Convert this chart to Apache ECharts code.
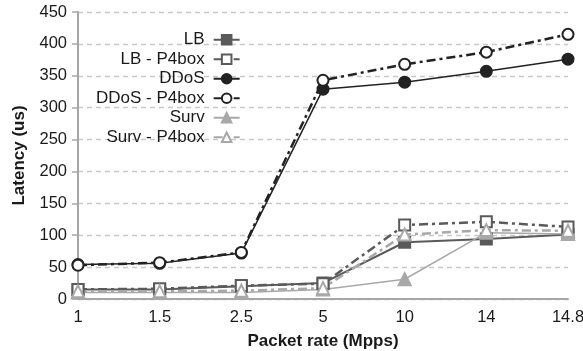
<!DOCTYPE html>
<html>
<head>
<meta charset="utf-8">
<script src="https://cdn.jsdelivr.net/npm/echarts@6/dist/echarts.min.js"></script>
<style>
  html, body { margin: 0; padding: 0; background: #fff; }
  #chart { width: 583px; height: 351px; }
</style>
</head>
<body>
<div id="chart"></div>
<script>
// 横轴：包速率
const packetRates = ['1', '1.5', '2.5', '5', '10', '14', '14.8'];

// 各场景时延 (us)
const lb = [15, 15, 20, 25, 89, 94, 101];
const lbP4box = [15, 16, 21, 24, 116, 121, 113];
const ddos = [54, 56, 72, 329, 340, 357, 376];
const ddosP4box = [53, 57, 73, 343, 368, 387, 415];
const surv = [10, 10, 10, 15, 31, 104, 102];
const survP4box = [12, 12, 13, 17, 101, 108, 107];

const seriesNames = ['LB', 'LB - P4box', 'DDoS', 'DDoS - P4box', 'Surv', 'Surv - P4box'];

const FONT = 'Liberation Sans';
const dashDot = [9, 4, 3, 4];

const chart = echarts.init(document.getElementById('chart'), null, { renderer: 'canvas' });

const mkSeries = (name, data, color, symbol, dashed, width) => ({
  name,
  type: 'line',
  data,
  symbol,
  symbolSize: symbol === 'triangle' || symbol === 'emptyTriangle' ? 12 : 11,
  color,
  lineStyle: { color, width: width, type: dashed ? dashDot : 'solid' },
  itemStyle: { color, borderColor: color, borderWidth: 2 },
  emphasis: { disabled: true },
  z: dashed ? 3 : 2,
});

chart.setOption({
  animation: false,
  textStyle: { fontFamily: FONT },
  grid: { left: 78, right: 15, top: 12, bottom: 52, outerBoundsMode: 'none', containLabel: false },
  legend: {
    orient: 'vertical',
    left: 91,
    top: 25,
    align: 'right',
    itemWidth: 26,
    itemHeight: 12,
    itemGap: 0,
    textStyle: { fontFamily: FONT, fontSize: 17, lineHeight: 19.5, color: '#1a1a1a', padding: [0, 4, 0, 0] },
    data: seriesNames,
  },
  xAxis: {
    type: 'category',
    boundaryGap: false,
    data: packetRates,
    name: 'Packet rate (Mpps)',
    nameLocation: 'middle',
    nameGap: 34,
    nameTextStyle: { fontFamily: FONT, fontSize: 17, fontWeight: 'bold', color: '#1a1a1a' },
    axisLine: { lineStyle: { color: '#a6a6a6', width: 2 } },
    axisTick: { show: false },
    axisLabel: { fontFamily: FONT, fontSize: 16.5, color: '#1a1a1a', margin: 10 },
    splitLine: { show: false },
  },
  yAxis: {
    type: 'value',
    min: 0,
    max: 450,
    interval: 50,
    name: 'Latency (us)',
    nameLocation: 'middle',
    nameGap: 50,
    nameTextStyle: { fontFamily: FONT, fontSize: 17, fontWeight: 'bold', color: '#1a1a1a' },
    axisLine: { show: true, lineStyle: { color: '#a6a6a6', width: 2 } },
    axisTick: { show: true, length: 6, lineStyle: { color: '#a6a6a6', width: 1.5 } },
    axisLabel: { fontFamily: FONT, fontSize: 16.5, color: '#1a1a1a', margin: 11 },
    splitLine: { show: true, lineStyle: { color: '#c8c8c8', type: [5, 4], width: 1.3 } },
  },
  series: [
    mkSeries('LB', lb, '#5a5a5a', 'rect', false, 2),
    mkSeries('LB - P4box', lbP4box, '#5a5a5a', 'emptyRect', true, 2.5),
    mkSeries('DDoS', ddos, '#222222', 'circle', false, 1.5),
    mkSeries('DDoS - P4box', ddosP4box, '#222222', 'emptyCircle', true, 2.5),
    mkSeries('Surv', surv, '#a8a8a8', 'triangle', false, 1.5),
    mkSeries('Surv - P4box', survP4box, '#a8a8a8', 'emptyTriangle', true, 2.5),
  ],
});
</script>
</body>
</html>
